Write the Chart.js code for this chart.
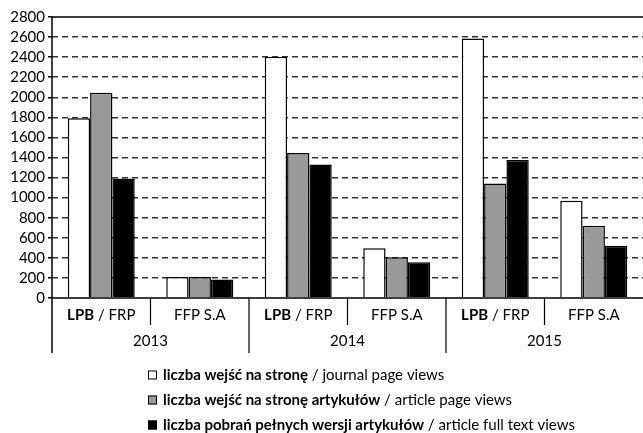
<!DOCTYPE html>
<html>
<head>
<meta charset="utf-8">
<script src="https://cdn.jsdelivr.net/npm/chart.js@4/dist/chart.umd.min.js"></script>
<style>
  html, body { margin: 0; padding: 0; background: #fff; }
  #wrap { width: 643px; height: 433px; position: relative; }
</style>
</head>
<body>
<div id="wrap"><canvas id="wykres"></canvas></div>
<script>
// dane
const lata = ['2013', '2014', '2015'];
const wydawcy = ['LPB / FRP', 'FFP S.A'];
const wejsciaStrona = [1790, 210, 2405, 495, 2585, 970];
const wejsciaArtykuly = [2045, 210, 1445, 405, 1140, 720];
const pobraniaPelne = [1190, 185, 1330, 355, 1375, 520];
const seriePL = ['liczba wejść na stronę', 'liczba wejść na stronę artykułów', 'liczba pobrań pełnych wersji artykułów'];
const serieEN = ['journal page views', 'article page views', 'article full text views'];
const kolory = ['#ffffff', '#999999', '#000000'];

const etykiety = [];
lata.forEach(() => wydawcy.forEach(w => etykiety.push(w)));

const FONT = 'Lato, "Open Sans", sans-serif';
const ROZMIAR = 15;

function tekstMieszany(ctx, czesci, x, y, wyrownanie) {
    // czesci: [[tekst, pogrubiony], ...]
    let szer = 0;
    czesci.forEach(c => {
        ctx.font = (c[1] ? 'bold ' : '') + ROZMIAR + 'px ' + FONT;
        szer += ctx.measureText(c[0]).width;
    });
    let start = wyrownanie === 'center' ? x - szer / 2 : x;
    czesci.forEach(c => {
        ctx.font = (c[1] ? 'bold ' : '') + ROZMIAR + 'px ' + FONT;
        ctx.fillText(c[0], start, y);
        start += ctx.measureText(c[0]).width;
    });
}

const osie = {
    id: 'osie',
    afterDraw(chart) {
        const ctx = chart.ctx;
        const a = chart.chartArea;
        const x = chart.scales.x;
        const y = chart.scales.y;
        ctx.save();
        ctx.strokeStyle = '#000';
        ctx.fillStyle = '#000';
        ctx.lineWidth = 1.5;

        // górna linia i osie
        ctx.beginPath();
        ctx.moveTo(a.left, y.getPixelForValue(2800));
        ctx.lineTo(a.right, y.getPixelForValue(2800));
        ctx.moveTo(a.left, a.bottom);
        ctx.lineTo(a.right, a.bottom);
        ctx.moveTo(a.left, a.top);
        ctx.lineTo(a.left, a.bottom + 55);
        ctx.stroke();

        // separatory kategorii
        const n = etykiety.length;
        ctx.lineWidth = 1.2;
        ctx.beginPath();
        for (let i = 0; i < n - 1; i++) {
            const sx = (x.getPixelForValue(i) + x.getPixelForValue(i + 1)) / 2;
            const dol = (i + 1) % wydawcy.length === 0 ? a.bottom + 55 : a.bottom + 27;
            ctx.moveTo(sx, a.bottom);
            ctx.lineTo(sx, dol);
        }
        ctx.stroke();

        ctx.textBaseline = 'middle';
        etykiety.forEach((e, i) => {
            const px = x.getPixelForValue(i);
            if (e.startsWith('LPB')) {
                tekstMieszany(ctx, [['LPB', true], [' / FRP', false]], px, a.bottom + 17, 'center');
            } else {
                tekstMieszany(ctx, [[e, false]], px, a.bottom + 17, 'center');
            }
        });
        lata.forEach((r, j) => {
            const k = j * wydawcy.length;
            const px = (x.getPixelForValue(k) + x.getPixelForValue(k + wydawcy.length - 1)) / 2;
            tekstMieszany(ctx, [[r, false]], px, a.bottom + 43, 'center');
        });

        // legenda
        seriePL.forEach((s, i) => {
            const ly = 375 + i * 25;
            ctx.fillStyle = kolory[i];
            ctx.fillRect(148, ly - 4.5, 9, 9);
            ctx.lineWidth = 1;
            ctx.strokeStyle = '#000';
            ctx.strokeRect(148.5, ly - 4, 8, 8);
            ctx.fillStyle = '#000';
            tekstMieszany(ctx, [[s, true], [' / ' + serieEN[i], false]], 163, ly, 'left');
        });
        ctx.restore();
    }
};

new Chart(document.getElementById('wykres'), {
    type: 'bar',
    data: {
        labels: etykiety,
        datasets: [wejsciaStrona, wejsciaArtykuly, pobraniaPelne].map((d, i) => ({
            label: seriePL[i],
            data: d,
            backgroundColor: kolory[i],
            borderColor: '#000',
            borderWidth: 1.5,
            barPercentage: 1,
            categoryPercentage: 0.68
        }))
    },
    options: {
        responsive: true,
        maintainAspectRatio: false,
        animation: false,
        layout: { padding: { top: 17, right: 0, bottom: 135, left: 0 } },
        plugins: { legend: { display: false }, tooltip: { enabled: false } },
        scales: {
            x: { display: false },
            y: {
                min: 0,
                max: 2800,
                afterFit(scale) { scale.width = 52; },
                ticks: {
                    stepSize: 200,
                    autoSkip: false,
                    color: '#000',
                    padding: 3,
                    font: { family: FONT, size: ROZMIAR },
                    callback: v => String(v)
                },
                grid: {
                    color: c => (c.tick && (c.tick.value === 0 || c.tick.value === 2800)) ? 'rgba(0,0,0,0)' : '#333',
                    lineWidth: 1.5,
                    tickColor: '#000',
                    tickLength: 4
                },
                border: { display: false, dash: [6, 4] }
            }
        }
    },
    plugins: [osie]
});
</script>
</body>
</html>
